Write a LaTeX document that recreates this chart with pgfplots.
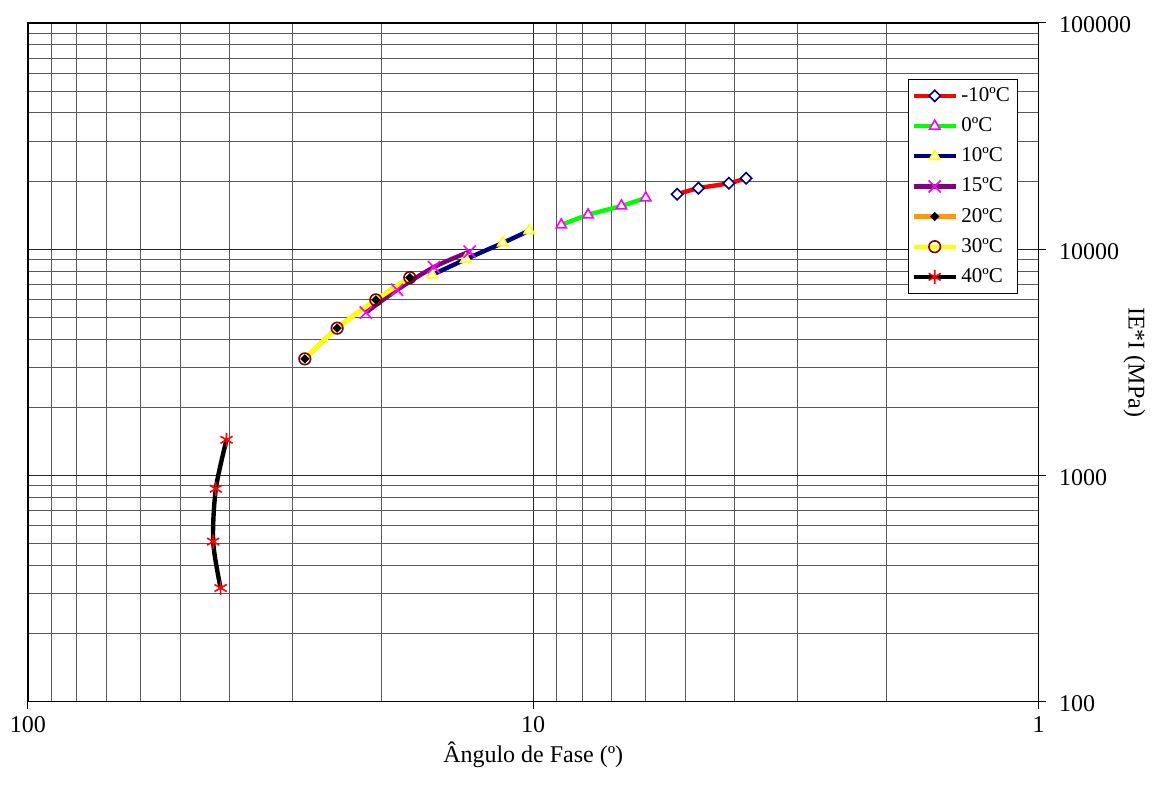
\documentclass[border=0pt]{standalone}
\usepackage{fontspec}
\setmainfont{Liberation Serif}
\usepackage{pgfplots}
\pgfplotsset{compat=1.18}
\definecolor{navy}{RGB}{0,0,128}
\definecolor{purp}{RGB}{128,0,128}
\definecolor{orng}{RGB}{255,153,0}
\definecolor{maroon}{RGB}{128,0,0}
\definecolor{magen}{RGB}{255,0,255}
\definecolor{yel}{RGB}{255,255,0}
\definecolor{grn}{RGB}{0,255,0}
\begin{document}
\begin{tikzpicture}
\begin{axis}[
  scale only axis, width=505.5pt, height=339.5pt,
  xmode=log, ymode=log, x dir=reverse,
  xmin=1, xmax=100, ymin=100, ymax=100000,
  xtick={1,10,100}, xticklabels={1,10,100},
  minor xtick={2,3,4,5,6,7,8,9,20,30,40,50,60,70,80,90},
  ytick={100,1000,10000,100000}, yticklabels={100,1000,10000,100000},
  minor ytick={200,300,400,500,600,700,800,900,2000,3000,4000,5000,6000,7000,8000,9000,20000,30000,40000,50000,60000,70000,80000,90000},
  xtick pos=bottom, ytick pos=right, yticklabel pos=right,
  tick align=outside, major tick length=3.75pt, minor tick length=0pt,
  tick style={black, line width=0.5pt},
  grid=both,
  major grid style={line width=0.5pt, black!85},
  minor grid style={line width=0.5pt, black!65},
  axis line style={line width=0.6pt, black},
  tick label style={font=\fontsize{12}{14}\selectfont},
  yticklabel style={xshift=3pt, yshift=-1pt},
  /pgf/number format/assume math mode=true,
  every axis x label/.style={at={(rel axis cs:0.5,0)}, anchor=center, yshift=-26.5pt, font=\fontsize{12}{14}\selectfont},
  every axis y label/.style={at={(rel axis cs:1,0.5)}, anchor=center, rotate=-90, yshift=48pt, font=\fontsize{12}{14}\selectfont},
  xlabel={Ângulo de Fase (º)},
  ylabel={IE*I (MPa)},
  legend style={at={(0.8704,0.9175)}, anchor=north west, draw=black, line width=0.5pt,
    font=\fontsize{10.5}{12}\selectfont, row sep=2.6pt, inner sep=2pt},
  legend cell align=left,
  legend image code/.code={\draw[mark repeat=2,mark phase=2] plot coordinates {(0cm,0cm) (0.36cm,0cm) (0.72cm,0cm)};},
]
\addplot[red, line width=2.2pt, smooth, mark=square*, mark size=2pt, mark options={rotate=45, draw=navy, fill=white, line width=0.8pt}]
  coordinates {(5.19,17500) (4.71,18600) (4.10,19570) (3.79,20600)};
\addlegendentry{-10ºC}
\addplot[grn, line width=2.2pt, smooth, mark=triangle*, mark size=3pt, mark options={draw=magen, fill=white, line width=0.8pt}]
  coordinates {(8.80,12800) (7.79,14180) (6.69,15540) (5.99,16850)};
\addlegendentry{0ºC}
\addplot[navy, line width=2.2pt, smooth, mark=triangle*, mark size=3pt, mark options={draw=yel, fill=white, line width=0.8pt}]
  coordinates {(15.85,7700) (13.60,9030) (11.49,10660) (10.19,12080)};
\addlegendentry{10ºC}
\addplot[purp, line width=2.2pt, smooth, mark=x, mark size=4.3pt, mark options={draw=magen, line width=0.8pt}]
  coordinates {(21.45,5245) (18.60,6610) (15.73,8330) (13.36,9760)};
\addlegendentry{15ºC}
\addplot[orng, line width=2.2pt, smooth, mark=square*, mark size=1.4pt, mark options={rotate=45, draw=black, fill=black, line width=0.5pt}]
  coordinates {(28.32,3275) (24.44,4477) (20.49,5970) (17.55,7490)};
\addlegendentry{20ºC}
\addplot[yel, line width=2.2pt, smooth, mark=o, mark size=2.9pt, mark options={draw=maroon, line width=0.8pt}]
  coordinates {(28.32,3275) (24.44,4477) (20.49,5970) (17.55,7490)};
\addlegendentry{30ºC}
\addplot[black, line width=2.2pt, smooth, mark=asterisk, mark size=3.5pt, mark options={draw=red, line width=0.8pt}]
  coordinates {(40.46,1437) (42.48,873) (43.0,510) (41.57,318)};
\addlegendentry{40ºC}
\end{axis}
\path ([shift={(-14pt,-46pt)}]current axis.south west) rectangle ([shift={(56.5pt,11.5pt)}]current axis.north east);
\end{tikzpicture}
\end{document}
